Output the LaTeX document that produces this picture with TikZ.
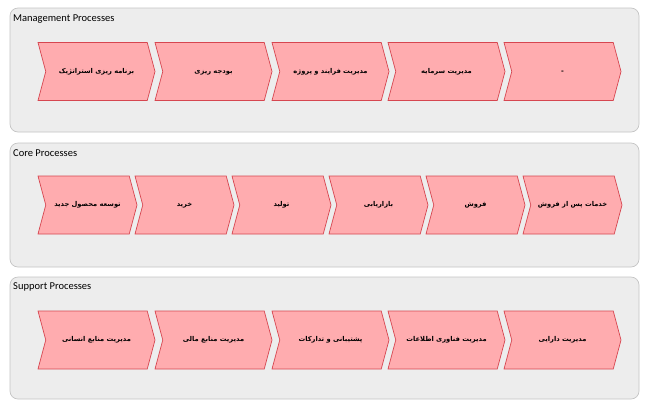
\documentclass[tikz,border=0pt]{standalone}
\usepackage{fontspec}
\setmainfont{Carlito}
\newfontfamily\farsi[Script=Arabic]{DejaVu Sans}
\TeXXeTstate=1
\usetikzlibrary{shapes.symbols}
\definecolor{panelfill}{HTML}{EDEDED}
\definecolor{panelline}{HTML}{C4C4C4}
\definecolor{chevfill}{HTML}{FFACAF}
\definecolor{chevline}{HTML}{D64650}

\begin{document}
\begin{tikzpicture}[x=1pt,y=-1pt,
	panel/.style={draw=panelline,fill=panelfill,rounded corners=8pt,line width=0.7pt},
	chev/.style={signal,signal from=west,signal to=east,signal pointer angle=150,
		draw=chevline,fill=chevfill,line width=0.7pt,minimum height=58pt,inner sep=0pt,
		text height=5pt,text depth=2pt,
		font=\farsi\bfseries\fontsize{6.7}{8}\selectfont},
	title/.style={anchor=west,inner sep=0pt,font=\fontsize{10.5}{12}\selectfont}]
		\useasboundingbox (0,0) rectangle (647,400);
		
		% management
		\draw[panel] (10,8) rectangle (639,132);
		\node[title] (mgt) at (13,19) {Management Processes};
		\node[chev,minimum width=117pt] (m1) at (96.5,71.5) {\beginR برنامه ریزی استراتژیک\endR};
		\node[chev,minimum width=117pt] (m2) at (213.5,71.5) {\beginR بودجه ریزی\endR};
		\node[chev,minimum width=117pt] (m3) at (330.5,71.5) {\beginR مدیریت فرایند و پروژه\endR};
		\node[chev,minimum width=117pt] (m4) at (446.5,71.5) {\beginR مدیریت سرمایه\endR};
		\node[chev,minimum width=117pt] (m5) at (562.5,71.5) {-};
		
		% core
		\draw[panel] (10,143) rectangle (639,267);
		\node[title] (core) at (13,153) {Core Processes};
		\node[chev,minimum width=99pt] (c1) at (87.5,205) {\beginR توسعه محصول جدید\endR};
		\node[chev,minimum width=99pt] (c2) at (184.5,205) {\beginR خرید\endR};
		\node[chev,minimum width=99pt] (c3) at (281.5,205) {\beginR تولید\endR};
		\node[chev,minimum width=99pt] (c4) at (378.5,205) {\beginR بازاریابی\endR};
		\node[chev,minimum width=99pt] (c5) at (475.5,205) {\beginR فروش\endR};
		\node[chev,minimum width=99pt] (c6) at (572.5,205) {\beginR خدمات پس از فروش\endR};
		
		% support
		\draw[panel] (10,277) rectangle (639,399);
		\node[title] (sup) at (13,287) {Support Processes};
		\node[chev,minimum width=117pt] (s1) at (96.5,340) {\beginR مدیریت منابع انسانی\endR};
		\node[chev,minimum width=117pt] (s2) at (213.5,340) {\beginR مدیریت منابع مالی\endR};
		\node[chev,minimum width=117pt] (s3) at (330.5,340) {\beginR پشتیبانی و تدارکات\endR};
		\node[chev,minimum width=117pt] (s4) at (446.5,340) {\beginR مدیریت فناوری اطلاعات\endR};
		\node[chev,minimum width=117pt] (s5) at (562.5,340) {\beginR مدیریت دارایی\endR};
\end{tikzpicture}
\end{document}
